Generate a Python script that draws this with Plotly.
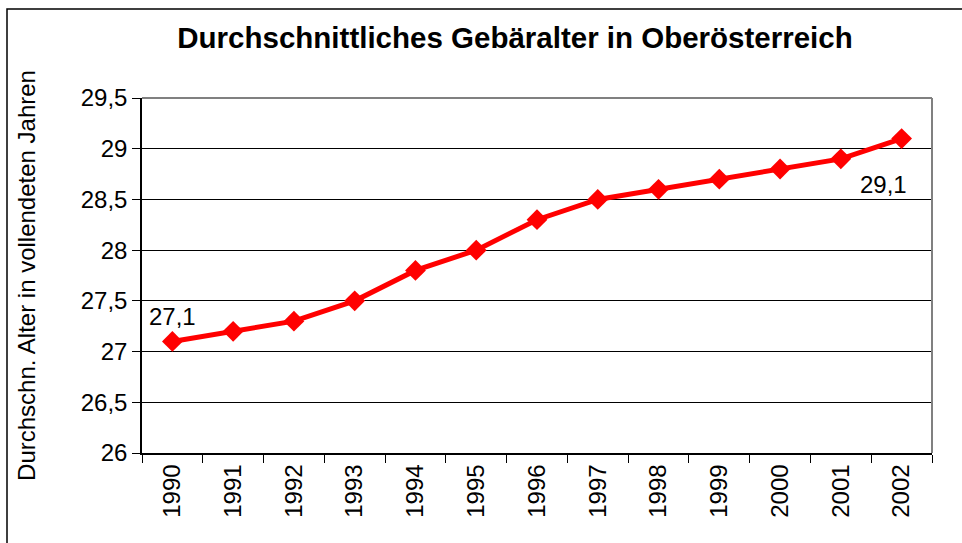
import plotly.graph_objects as go

years = ["1990", "1991", "1992", "1993", "1994", "1995", "1996", "1997", "1998", "1999", "2000", "2001", "2002"]
ages = [27.1, 27.2, 27.3, 27.5, 27.8, 28.0, 28.3, 28.5, 28.6, 28.7, 28.8, 28.9, 29.1]
y_ticks = [26, 26.5, 27, 27.5, 28, 28.5, 29, 29.5]

FONT = "Liberation Sans, Arial, sans-serif"
L, R, T, B = 142, 30, 98, 90
W, H = 962, 543
pw, ph = W - L - R, H - T - B

fig = go.Figure()
fig.add_trace(go.Scatter(
    x=years, y=ages, mode="lines+markers",
    line=dict(color="#ff0000", width=5),
    marker=dict(symbol="diamond", size=16, color="#ff0000"),
    cliponaxis=False, showlegend=False,
))

fig.add_annotation(x=0, y=ages[0], text=f"{ages[0]}".replace(".", ","), showarrow=False,
                   yshift=25, font=dict(family=FONT, size=24, color="black"))
fig.add_annotation(x=len(years) - 1, y=ages[-1], text=f"{ages[-1]}".replace(".", ","), showarrow=False,
                   xshift=-18, yshift=-46, font=dict(family=FONT, size=24, color="black"))

# plot area top/right border (gray)
fig.add_shape(type="line", xref="paper", yref="paper", x0=0, x1=1, y0=1, y1=1,
              line=dict(color="#808080", width=2), layer="above")
fig.add_shape(type="line", xref="paper", yref="paper", x0=1, x1=1, y0=0, y1=1,
              line=dict(color="#808080", width=2), layer="above")
# outer frame (left and top)
fx0 = (7 - L) / pw
fy1 = (H - B - 9) / ph
fig.add_shape(type="rect", xref="paper", yref="paper", x0=fx0, x1=(W + 5 - L) / pw,
              y0=-(B + 5) / ph, y1=fy1, line=dict(color="black", width=1.5), layer="above")

fig.update_layout(
    width=W, height=H,
    margin=dict(l=L, r=R, t=T, b=B),
    paper_bgcolor="white", plot_bgcolor="white",
    separators=",.",
    title=dict(text="<b>Durchschnittliches Gebäralter in Oberösterreich</b>",
               x=515 / W, xanchor="center", y=1 - 38 / H, yanchor="middle",
               font=dict(family=FONT, size=29.5, color="black")),
    font=dict(family=FONT, size=24, color="black"),
)
fig.update_xaxes(type="category", range=[-0.5, len(years) - 0.5], tickson="boundaries",
                 ticks="outside", ticklen=8,
                 tickcolor="black", tickwidth=1, tickangle=-90,
                 showline=True, linecolor="black", linewidth=1.5, showgrid=False,
                 tickfont=dict(family=FONT, size=24, color="black"))
fig.update_yaxes(range=[26, 29.5], tickvals=y_ticks, ticks="outside", ticklen=8,
                 tickcolor="black", showline=True, linecolor="black", linewidth=1.5,
                 showgrid=True, gridcolor="black", gridwidth=1, zeroline=False,
                 tickfont=dict(family=FONT, size=24, color="black"),
                 title=dict(text="Durchschn. Alter in vollendeten Jahren", standoff=38,
                            font=dict(family=FONT, size=24, color="black")))

fig.write_html("out.html", config={"displayModeBar": False},
               post_script="document.body.style.margin='0';")
